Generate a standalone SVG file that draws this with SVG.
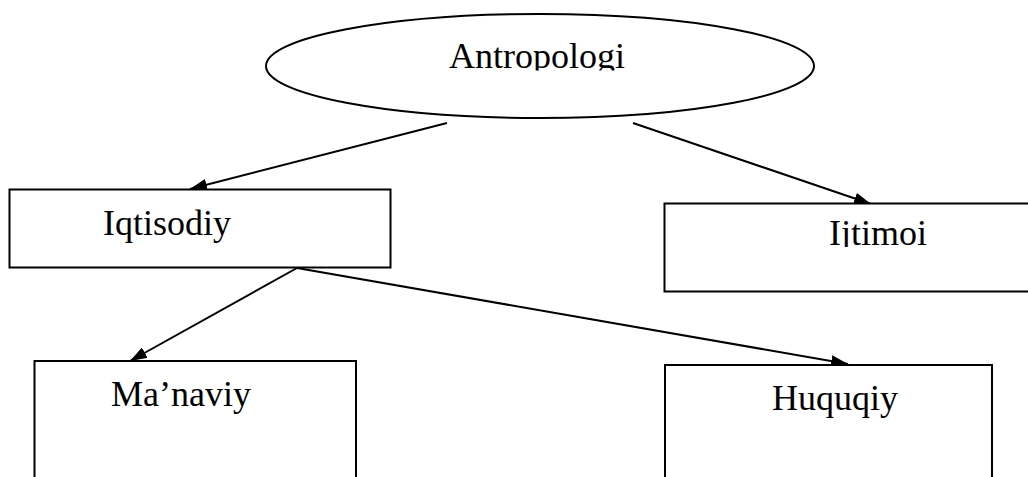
<svg xmlns="http://www.w3.org/2000/svg" width="1028" height="477" viewBox="0 0 1028 477">
<style>
.shape{fill:#fff;stroke:#000;stroke-width:2}
.lbl{font-family:"Liberation Serif","Times New Roman",serif;font-size:36px;fill:#000}
.conn{stroke:#000;stroke-width:2;fill:none;marker-end:url(#ah)}
</style>
<defs>
<marker id="ah" markerUnits="userSpaceOnUse" markerWidth="18" markerHeight="12" refX="17" refY="6" orient="auto">
<path d="M0,0 L17,6 L0,12 Z" fill="#000"/>
</marker>
<clipPath id="c1"><rect x="0" y="0" width="1028" height="70.5"/></clipPath>
<clipPath id="c2"><rect x="0" y="200" width="1028" height="47"/></clipPath>
</defs>
<rect width="1028" height="477" fill="#fff"/>
<g id="connectors">
<line class="conn" x1="447" y1="123" x2="190" y2="189"/>
<line class="conn" x1="633" y1="123" x2="871" y2="204"/>
<line class="conn" x1="297" y1="268" x2="130" y2="361"/>
<line class="conn" x1="297" y1="268" x2="848" y2="364"/>
</g>
<g id="antropologi">
<ellipse class="shape" cx="540" cy="66" rx="274" ry="52"/>
<text class="lbl" x="449" y="68" clip-path="url(#c1)">Antropologi</text>
</g>
<g id="iqtisodiy">
<rect class="shape" x="9.5" y="189.5" width="381" height="78"/>
<text class="lbl" x="103" y="235">Iqtisodiy</text>
</g>
<g id="ijtimoi">
<rect class="shape" x="664.5" y="203.5" width="380" height="88"/>
<text class="lbl" x="829" y="245" clip-path="url(#c2)">Ijtimoi</text>
</g>
<g id="manaviy">
<rect class="shape" x="34.5" y="361" width="321.5" height="200"/>
<text class="lbl" x="111" y="406">Ma’naviy</text>
</g>
<g id="huquqiy">
<rect class="shape" x="665" y="365" width="327" height="200"/>
<text class="lbl" x="772" y="410">Huquqiy</text>
</g>
</svg>
